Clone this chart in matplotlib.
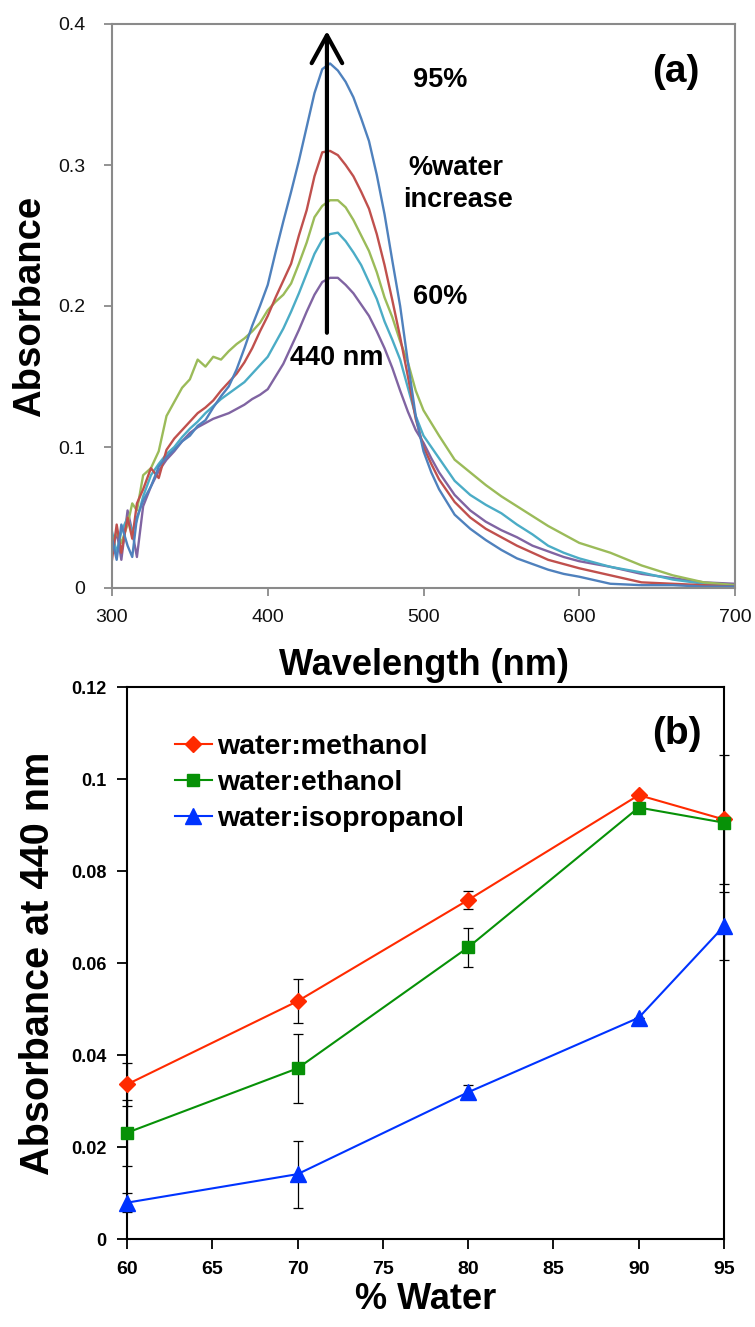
import matplotlib
matplotlib.use("Agg")
import matplotlib.pyplot as plt

plt.rcParams['font.family'] = ['Liberation Sans', 'DejaVu Sans']

# ---------------- Panel (a) data: absorbance spectra ----------------
wavelength = [300, 303, 306, 310, 313, 316, 320, 325, 330, 335, 340, 345, 350, 355, 360,
              365, 370, 375, 380, 385, 390, 395, 400, 405, 410, 415, 420, 425, 430, 435,
              440, 445, 450, 455, 460, 465, 470, 475, 480, 485, 490, 495, 500, 505, 510,
              520, 530, 540, 550, 560, 570, 580, 590, 600, 620, 640, 660, 680, 700]

abs_95 = [0.035, 0.020, 0.045, 0.030, 0.022, 0.050, 0.062, 0.072, 0.086, 0.093, 0.098, 0.104,
          0.108, 0.115, 0.119, 0.128, 0.136, 0.143, 0.155, 0.170, 0.186, 0.200, 0.215, 0.238,
          0.260, 0.281, 0.303, 0.327, 0.351, 0.368, 0.372, 0.367, 0.359, 0.348, 0.333, 0.317,
          0.293, 0.265, 0.232, 0.200, 0.160, 0.122, 0.097, 0.082, 0.070, 0.052, 0.042, 0.034,
          0.027, 0.021, 0.017, 0.013, 0.010, 0.008, 0.003, 0.002, 0.002, 0.001, 0.001]

abs_red = [0.020, 0.045, 0.025, 0.050, 0.035, 0.060, 0.070, 0.085, 0.078, 0.098, 0.106, 0.112,
           0.118, 0.124, 0.128, 0.133, 0.140, 0.146, 0.152, 0.160, 0.170, 0.182, 0.193, 0.206,
           0.218, 0.230, 0.250, 0.268, 0.292, 0.309, 0.310, 0.307, 0.300, 0.292, 0.281, 0.269,
           0.251, 0.229, 0.204, 0.178, 0.150, 0.120, 0.100, 0.088, 0.077, 0.061, 0.050, 0.042,
           0.036, 0.030, 0.025, 0.020, 0.017, 0.014, 0.009, 0.004, 0.003, 0.002, 0.001]

abs_green = [0.030, 0.040, 0.032, 0.045, 0.060, 0.055, 0.080, 0.085, 0.097, 0.122, 0.132, 0.142,
             0.148, 0.162, 0.157, 0.164, 0.162, 0.168, 0.173, 0.177, 0.182, 0.188, 0.197, 0.203,
             0.208, 0.216, 0.230, 0.245, 0.263, 0.271, 0.275, 0.275, 0.270, 0.261, 0.250, 0.239,
             0.224, 0.206, 0.192, 0.175, 0.160, 0.140, 0.126, 0.117, 0.108, 0.091, 0.082, 0.073,
             0.065, 0.058, 0.051, 0.044, 0.038, 0.032, 0.025, 0.016, 0.009, 0.004, 0.002]

abs_aqua = [0.040, 0.025, 0.040, 0.050, 0.040, 0.048, 0.065, 0.080, 0.088, 0.095, 0.100, 0.107,
            0.113, 0.118, 0.124, 0.129, 0.134, 0.138, 0.142, 0.146, 0.152, 0.158, 0.164, 0.174,
            0.184, 0.196, 0.209, 0.223, 0.237, 0.247, 0.251, 0.252, 0.246, 0.238, 0.229, 0.217,
            0.205, 0.189, 0.176, 0.162, 0.142, 0.122, 0.108, 0.100, 0.092, 0.076, 0.066, 0.059,
            0.053, 0.045, 0.038, 0.030, 0.025, 0.021, 0.015, 0.011, 0.006, 0.003, 0.001]

abs_60 = [0.025, 0.040, 0.020, 0.055, 0.040, 0.022, 0.058, 0.072, 0.083, 0.091, 0.097, 0.104,
          0.110, 0.114, 0.117, 0.120, 0.122, 0.124, 0.127, 0.130, 0.134, 0.137, 0.141, 0.150,
          0.159, 0.171, 0.183, 0.196, 0.208, 0.217, 0.220, 0.220, 0.215, 0.209, 0.201, 0.193,
          0.182, 0.170, 0.156, 0.140, 0.125, 0.112, 0.103, 0.092, 0.082, 0.066, 0.055, 0.047,
          0.041, 0.036, 0.030, 0.026, 0.022, 0.019, 0.015, 0.010, 0.007, 0.004, 0.003]

spectra = [abs_60, abs_aqua, abs_green, abs_red, abs_95]
spectra_colors = ['#8064A2', '#4BACC6', '#9BBB59', '#C0504D', '#4F81BD']

top_xticks = [300, 400, 500, 600, 700]
top_yticks = [0, 0.1, 0.2, 0.3, 0.4]
top_yticklabels = ['0', '0.1', '0.2', '0.3', '0.4']

# ---------------- Panel (b) data: absorbance at 440 nm ----------------
water_pct = [60, 70, 80, 90, 95]
methanol = [0.0336, 0.0517, 0.0737, 0.0965, 0.0912]
methanol_err = [0.0046, 0.0048, 0.0020, 0.0, 0.0140]
ethanol = [0.0231, 0.0371, 0.0634, 0.0938, 0.0905]
ethanol_err = [0.0072, 0.0075, 0.0043, 0.0, 0.0]
isopropanol = [0.0079, 0.0141, 0.0319, 0.0481, 0.0680]
isopropanol_err = [0.0020, 0.0073, 0.0015, 0.0, 0.0074]

series_labels = ['water:methanol', 'water:ethanol', 'water:isopropanol']
bottom_xticks = [60, 65, 70, 75, 80, 85, 90, 95]
bottom_yticks = [0, 0.02, 0.04, 0.06, 0.08, 0.1, 0.12]
bottom_yticklabels = ['0', '0.02', '0.04', '0.06', '0.08', '0.1', '0.12']

W, H = 755, 1327
fig = plt.figure(figsize=(W / 100, H / 100), dpi=100)

# axes placement from pixel boxes
def box(l, t, r, b):
    return [l / W, 1 - b / H, (r - l) / W, (b - t) / H]

ax1 = fig.add_axes(box(112, 24, 735, 588))
ax2 = fig.add_axes(box(127, 687, 724, 1239))

# ---- Panel (a) ----
for y, c in zip(spectra, spectra_colors):
    ax1.plot(wavelength, y, color=c, lw=1.7, solid_joinstyle='round')

ax1.set_xlim(300, 700)
ax1.set_ylim(0, 0.4)
ax1.set_xticks(top_xticks)
ax1.set_yticks(top_yticks)
ax1.set_yticklabels(top_yticklabels)
for s in ax1.spines.values():
    s.set_color('#8a8a8a')
    s.set_linewidth(1.5)
ax1.tick_params(axis='both', direction='out', length=6, width=1.3, color='#8a8a8a',
                labelsize=14, labelcolor='#111111')
ax1.tick_params(axis='y', pad=13)
ax1.tick_params(axis='x', pad=9)

ax1.set_ylabel('Absorbance', fontsize=27.5, fontweight='bold')
ax1.yaxis.set_label_coords(-0.132, 0.5)
ax1.yaxis.label.set_verticalalignment('center')
ax1.set_xlabel('Wavelength (nm)', fontsize=26, fontweight='bold')
ax1.xaxis.set_label_coords(0.5, -0.137)
ax1.xaxis.label.set_verticalalignment('center')

ax1.annotate('', xy=(438, 0.395), xytext=(438, 0.181),
             arrowprops=dict(arrowstyle='->,head_length=1.0,head_width=0.55',
                             lw=3, color='black', mutation_scale=20,
                             shrinkA=0, shrinkB=0))

txt = dict(transform=ax1.transAxes, fontsize=19.5, fontweight='bold',
           ha='center', va='center')
ax1.text(0.5265, 0.900, '95%', **txt)
ax1.text(0.552, 0.745, '%water', **txt)
ax1.text(0.556, 0.688, 'increase', **txt)
ax1.text(0.5265, 0.516, '60%', **txt)
ax1.text(0.361, 0.408, '440 nm', **txt)
ax1.text(0.905, 0.915, '(a)', transform=ax1.transAxes, fontsize=28,
         fontweight='bold', ha='center', va='center')

# ---- Panel (b) ----
styles = [
    (methanol, methanol_err, '#FF2A00', 'D', 7.8),
    (ethanol, ethanol_err, '#079107', 's', 8.6),
    (isopropanol, isopropanol_err, '#0033FF', '^', 11.5),
]
for (vals, err, col, mk, ms), lab in zip(styles, series_labels):
    ax2.errorbar(water_pct, vals, yerr=err, fmt='none', ecolor='black',
                 elinewidth=0.9, capsize=3.6, capthick=0.9, zorder=2, clip_on=False)
    ax2.plot(water_pct, vals, color=col, lw=1.5, marker=mk, ms=ms,
             markeredgecolor=col, label=lab, zorder=3, clip_on=False)

ax2.set_xlim(60, 95)
ax2.set_ylim(0, 0.12)
ax2.set_xticks(bottom_xticks)
ax2.set_yticks(bottom_yticks)
ax2.set_yticklabels(bottom_yticklabels)
for s in ax2.spines.values():
    s.set_color('black')
    s.set_linewidth(1.5)
ax2.tick_params(axis='both', direction='out', length=7, width=1.3, color='black')
ax2.tick_params(axis='y', labelsize=13, pad=8)
ax2.tick_params(axis='x', labelsize=14, pad=9)
for lbl in ax2.get_xticklabels() + ax2.get_yticklabels():
    lbl.set_fontweight('bold')

ax2.set_ylabel('Absorbance at 440 nm', fontsize=28.5, fontweight='bold')
ax2.yaxis.set_label_coords(-0.149, 0.5)
ax2.yaxis.label.set_verticalalignment('center')
ax2.set_xlabel('% Water', fontsize=26, fontweight='bold')
ax2.xaxis.set_label_coords(0.5, -0.11)
ax2.xaxis.label.set_verticalalignment('center')

ax2.legend(loc='upper left', bbox_to_anchor=(0.08, 0.915), frameon=False,
           prop={'weight': 'bold', 'size': 20.5}, handlelength=1.3,
           handletextpad=0.2, labelspacing=0.36, borderpad=0, borderaxespad=0)

ax2.text(0.921, 0.915, '(b)', transform=ax2.transAxes, fontsize=28,
         fontweight='bold', ha='center', va='center')

fig.savefig('out.png', dpi=100)
